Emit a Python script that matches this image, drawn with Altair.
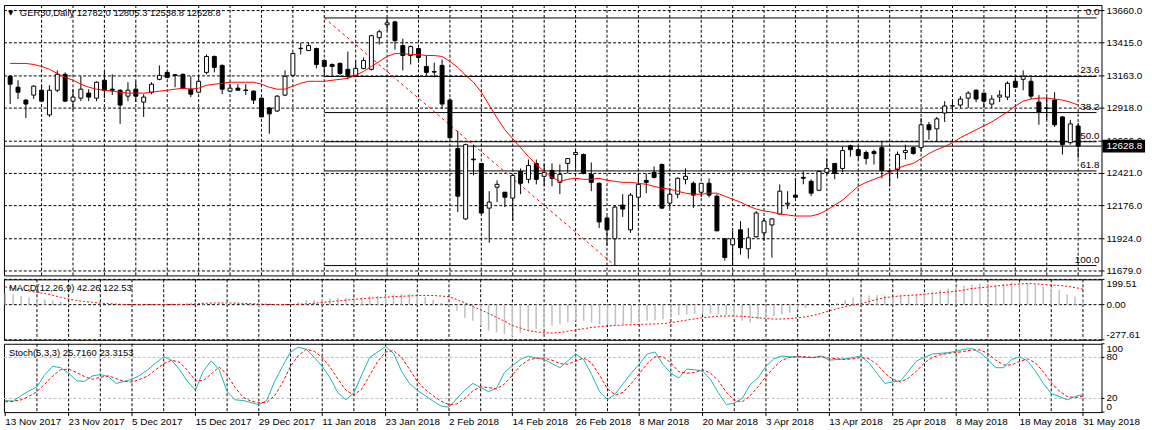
import altair as alt
import pandas as pd

# ------------------------------------------------------------------ data
x_labels = ["13 Nov 2017", "23 Nov 2017", "5 Dec 2017", "15 Dec 2017", "29 Dec 2017",
            "11 Jan 2018", "23 Jan 2018", "2 Feb 2018", "14 Feb 2018", "26 Feb 2018",
            "8 Mar 2018", "20 Mar 2018", "3 Apr 2018", "13 Apr 2018", "25 Apr 2018",
            "8 May 2018", "18 May 2018", "31 May 2018"]

opens = [13160, 13077, 12979, 13017, 13054, 12866, 13054, 13175, 12971, 12994,
         13032, 12994, 13130, 13062, 13054, 13009, 13062, 12964, 13039, 13137,
         13190, 13172, 13175, 13062, 13039, 13190, 13311, 13243, 13047, 13070,
         13056, 13047, 12994, 12919, 12896, 13017, 13167, 13371, 13356, 13371,
         13280, 13250, 13258, 13213, 13167, 13220, 13213, 13454, 13552, 13574,
         13394, 13318, 13371, 13235, 13196, 13243, 12979, 12610, 12075, 12530,
         12497, 12157, 12316, 12278, 12233, 12436, 12376, 12497, 12399, 12444,
         12353, 12497, 12565, 12565, 12414, 12346, 12082, 11924, 12180, 11992,
         12240, 12368, 12429, 12489, 12195, 12263, 12376, 12346, 12278, 12346,
         12248, 11924, 11878, 11992, 11848, 11939, 11969, 12029, 12112, 12187,
         12256, 12391, 12361, 12293, 12429, 12497, 12459, 12632, 12602, 12580,
         12587, 12617, 12438, 12451, 12580, 12617, 12617, 12791, 12760, 12881,
         12934, 12941, 12994, 13054, 13032, 12949, 13002, 13002, 13122, 13137,
         13122, 12964, 12919, 12979, 12851, 12655, 12782.0]

highs = [13165, 13130, 12987, 13092, 13092, 13092, 13205, 13190, 13062, 13160,
         13062, 13122, 13198, 13175, 13062, 13115, 13122, 13024, 13115, 13243,
         13195, 13175, 13182, 13160, 13160, 13326, 13318, 13250, 13100, 13100,
         13100, 13054, 12994, 12926, 13017, 13205, 13341, 13416, 13416, 13378,
         13288, 13258, 13265, 13348, 13273, 13303, 13476, 13514, 13604, 13582,
         13446, 13394, 13378, 13318, 13265, 13288, 12994, 12745, 12647, 12640,
         12500, 12286, 12368, 12280, 12414, 12459, 12527, 12527, 12497, 12497,
         12489, 12534, 12610, 12572, 12504, 12353, 12097, 12180, 12263, 12271,
         12421, 12421, 12474, 12497, 12308, 12391, 12459, 12361, 12346, 12384,
         12263, 11924, 11984, 12059, 12006, 12135, 12082, 12082, 12338, 12286,
         12384, 12436, 12376, 12444, 12534, 12497, 12625, 12640, 12625, 12595,
         12602, 12662, 12459, 12587, 12640, 12625, 12843, 12813, 12851, 12971,
         12971, 13009, 13047, 13062, 13032, 13017, 13054, 13122, 13152, 13205,
         13152, 13017, 13002, 13039, 12858, 12828, 12805.3]

lows = [12949, 12987, 12843, 12987, 12964, 12851, 13039, 12964, 12904, 12971,
        12971, 12971, 12994, 13017, 12798, 12971, 12964, 12851, 13024, 13130,
        13145, 13077, 13062, 13002, 13032, 13175, 13190, 13024, 13039, 13054,
        13017, 12949, 12851, 12723, 12889, 13009, 13160, 13326, 13356, 13220,
        13167, 13167, 13167, 13137, 13167, 13213, 13205, 13401, 13507, 13363,
        13205, 13250, 13265, 13167, 13152, 12911, 12685, 12127, 12067, 12406,
        12112, 11894, 12203, 12165, 12059, 12263, 12346, 12338, 12323, 12323,
        12263, 12421, 12459, 12414, 12286, 12006, 11871, 11720, 12090, 11969,
        12150, 12271, 12384, 12150, 12157, 12233, 12338, 12157, 12240, 12240,
        11984, 11758, 11728, 11803, 11773, 11931, 11909, 11781, 12112, 12150,
        12233, 12338, 12248, 12286, 12414, 12376, 12429, 12549, 12527, 12489,
        12489, 12384, 12323, 12384, 12527, 12565, 12587, 12678, 12662, 12813,
        12889, 12919, 12919, 12964, 12919, 12919, 12964, 12979, 13070, 13054,
        12987, 12791, 12828, 12775, 12565, 12640, 12538.8]

closes = [13100, 13039, 12949, 13085, 12971, 13054, 13175, 12971, 13002, 13062,
          13002, 13115, 13054, 13054, 12941, 13054, 13009, 13002, 13100, 13167,
          13152, 13167, 13070, 13024, 13122, 13311, 13228, 13062, 13070, 13054,
          13052, 12979, 12851, 12874, 13009, 13160, 13333, 13373, 13394, 13250,
          13235, 13235, 13182, 13167, 13220, 13280, 13469, 13499, 13567, 13431,
          13318, 13386, 13303, 13190, 13192, 12949, 12693, 12248, 12640, 12525,
          12120, 12203, 12338, 12240, 12406, 12346, 12482, 12376, 12429, 12384,
          12414, 12534, 12580, 12421, 12353, 12052, 11992, 12165, 12150, 12256,
          12338, 12353, 12391, 12157, 12263, 12384, 12399, 12256, 12346, 12256,
          11984, 11781, 11924, 11856, 11931, 12120, 12059, 12075, 12286, 12195,
          12240, 12384, 12271, 12436, 12459, 12421, 12595, 12602, 12557, 12534,
          12572, 12444, 12434, 12565, 12595, 12572, 12791, 12753, 12836, 12934,
          12936, 12987, 13032, 12987, 12971, 12987, 13017, 13107, 13077, 13160,
          13009, 12889, 12917, 12791, 12640, 12798, 12628.8]

ma = [13258, 13258, 13258, 13250, 13235, 13213, 13182, 13152, 13130, 13100,
      13077, 13062, 13054, 13047, 13039, 13032, 13032, 13032, 13039, 13047,
      13054, 13062, 13069, 13062, 13069, 13092, 13100, 13107, 13115, 13115,
      13115, 13115, 13100, 13077, 13062, 13062, 13085, 13107, 13122, 13122,
      13122, 13130, 13137, 13145, 13167, 13198, 13235, 13273, 13311, 13333,
      13333, 13326, 13326, 13318, 13318, 13311, 13273, 13228, 13167, 13115,
      13039, 12941, 12843, 12753, 12685, 12617, 12549, 12489, 12436, 12391,
      12361, 12376, 12384, 12376, 12376, 12384, 12369, 12361, 12353, 12353,
      12346, 12338, 12323, 12308, 12301, 12286, 12271, 12263, 12263, 12271,
      12271, 12248, 12225, 12203, 12173, 12150, 12135, 12127, 12112, 12105,
      12097, 12097, 12097, 12112, 12142, 12180, 12218, 12271, 12323, 12353,
      12376, 12399, 12429, 12459, 12482, 12497, 12534, 12572, 12602, 12625,
      12655, 12693, 12723, 12753, 12783, 12813, 12851, 12889, 12934, 12971,
      12987, 12994, 12994, 12987, 12979, 12964, 12941]

macd_hist = [90, 80, 68, 57, 48, 40, 32, 22, 12, 3,
             -3, -5, -5, -3, 0, -2, -4, -2, 2, 5,
             8, 10, 10, 8, 12, 15, 12, 10, 5, 2,
             -3, -8, -12, -15, -10, -5, 5, 23, 38, 38,
             44, 49, 54, 54, 56, 59, 64, 69, 74, 80,
             85, 82, 74, 59, 36, 13, -8, -51, -103, -128,
             -167, -205, -218, -231, -250, -225, -205, -192, -180, -167,
             -154, -141, -128, -128, -141, -154, -160, -160, -158, -149,
             -141, -128, -123, -115, -103, -82, -77, -72, -77, -72,
             -77, -82, -100, -128, -141, -115, -103, -90, -77, -64,
             -38, -26, -13, -5, 3, 13, 38, 56, 64, 72,
             77, 72, 64, 72, 77, 77, 90, 103, 115, 128,
             141, 154, 159, 167, 159, 154, 167, 175, 167, 172,
             159, 141, 128, 115, 82, 64, 42.26]

macd_signal = [140, 128, 117, 107, 98, 87, 74, 58, 44, 33,
               25, 18, 12, 8, 4, 2, 0, -1, -1, 0,
               0, 0, 1, 3, 6, 10, 13, 13, 13, 12,
               10, 8, 5, 3, 1, 0, 1, 3, 6, 11,
               17, 23, 30, 36, 42, 47, 51, 55, 59, 63,
               66, 69, 72, 73, 72, 68, 62, 40, 15, -15,
               -40, -70, -100, -130, -165, -185, -205, -215, -222, -224,
               -220, -210, -200, -190, -180, -174, -168, -164, -161, -159,
               -156, -154, -152, -150, -142, -132, -122, -112, -103, -97,
               -91, -89, -89, -92, -98, -103, -109, -114, -114, -110,
               -104, -96, -85, -68, -48, -32, -16, -3, 8, 25,
               42, 55, 63, 69, 73, 77, 82, 88, 94, 99,
               105, 116, 128, 133, 139, 147, 153, 159, 164, 167,
               165, 159, 155, 151, 145, 135, 122.53]

stoch_main = [17, 16, 24, 31, 37, 55, 67, 65, 57, 46,
              45, 53, 55, 52, 42, 45, 48, 54, 62, 72,
              81, 76, 62, 45, 32, 60, 75, 62, 30, 18,
              17, 14, 11, 17, 45, 67, 88, 95, 92, 80,
              67, 50, 28, 18, 28, 55, 80, 88, 96, 86,
              60, 42, 32, 24, 16, 9, 7, 20, 32, 42,
              36, 30, 35, 58, 68, 77, 82, 79, 77, 71,
              65, 75, 85, 77, 55, 30, 18, 27, 42, 57,
              70, 85, 88, 70, 57, 50, 63, 62, 60, 48,
              28, 11, 13, 20, 40, 50, 67, 78, 82, 81,
              81, 80, 80, 82, 76, 77, 78, 80, 82, 72,
              57, 42, 44, 46, 60, 75, 80, 85, 86, 87,
              89, 92, 93, 87, 77, 65, 65, 77, 81, 75,
              60, 42, 27, 23, 18, 23, 25.716]

stoch_signal = [15, 16, 18, 23, 30, 41, 53, 62, 63, 58,
                52, 48, 51, 53, 49, 45, 44, 48, 53, 62,
                71, 76, 73, 61, 46, 46, 56, 66, 55, 36,
                22, 16, 14, 14, 24, 43, 67, 83, 92, 89,
                80, 66, 48, 32, 25, 34, 54, 74, 88, 90,
                80, 63, 45, 33, 24, 16, 11, 12, 20, 31,
                37, 36, 34, 41, 54, 68, 76, 79, 79, 76,
                71, 70, 75, 79, 72, 54, 34, 25, 29, 42,
                56, 71, 81, 81, 72, 59, 57, 58, 62, 57,
                46, 29, 17, 15, 24, 37, 52, 65, 76, 80,
                81, 81, 80, 81, 79, 78, 77, 78, 80, 78,
                70, 57, 48, 44, 50, 60, 72, 80, 84, 86,
                87, 89, 91, 91, 86, 76, 69, 69, 74, 78,
                72, 59, 43, 31, 23, 21, 23.3153]

fib_labels = ["0.0", "23.6", "38.2", "50.0", "61.8", "100.0"]
fib_prices = [13604, 13159, 12884, 12662, 12440, 11720]
fib_from_bar, fib_low_bar = 40, 77

price_ticks = [13660.0, 13415.0, 13163.0, 12918.0, 12666.0, 12421.0, 12176.0, 11924.0, 11679.0]
macd_ticks = [199.51, 0.0, -277.61]
stoch_ticks = [100, 80, 20, 0]
stoch_levels = [80, 20]

n = len(closes)
for arr in (opens, highs, lows, ma, macd_hist, macd_signal, stoch_main, stoch_signal):
    assert len(arr) == n, len(arr)
bars = list(range(n))
grid_bars = list(range(4, n, 4))
label_bars = [8 * i for i in range(len(x_labels))]
bid = closes[-1]

# ------------------------------------------------------------------ layout
W = 1108
H_MAIN, H_MACD, H_STOCH = 273, 61, 69
FONT = "Liberation Sans"
X_MAX = 138.34

xs = alt.Scale(domain=[-0.16, X_MAX], nice=False, zero=False)
ys = alt.Scale(domain=[11645, 13702.5], nice=False, zero=False)
ms = alt.Scale(domain=[-277.61, 199.51], nice=False, zero=False)
ss = alt.Scale(domain=[0, 100], nice=False, zero=False)

DASH = [3, 2]

df = pd.DataFrame({"k": bars, "open": opens, "high": highs, "low": lows,
                   "close": closes, "ma": ma})
grid_df = pd.DataFrame({"k": grid_bars})


def X(field):
    return alt.X(field, scale=xs, axis=None)


def vgrid():
    return alt.Chart(grid_df).mark_rule(color="black", strokeDash=DASH, strokeWidth=1).encode(
        x=X("k:Q"))


def label(text, x, y, size=9.5, font=FONT):
    return alt.Chart(pd.DataFrame({"t": [text]})).mark_text(
        align="left", baseline="middle", fontSize=size, font=font, color="black"
    ).encode(x=alt.value(x), y=alt.value(y), text="t:N")


def right_axis(values, texts, scale, baselines, grid=False):
    """Right-hand price scale drawn as marks: ticks, labels and optional grid."""
    d = pd.DataFrame({"v": values, "t": texts, "b": baselines})
    layers = []
    if grid:
        layers.append(alt.Chart(d).mark_rule(color="black", strokeDash=DASH, strokeWidth=1)
                      .encode(y=alt.Y("v:Q", scale=scale, axis=None)))
    layers.append(alt.Chart(d).mark_rule(color="black", strokeWidth=1).encode(
        x=alt.value(W), x2=alt.value(W + 3), y=alt.Y("v:Q", scale=scale, axis=None)))
    for b in sorted(set(baselines)):
        layers.append(
            alt.Chart(d).transform_filter(alt.datum.b == b).mark_text(
                align="left", baseline=b, fontSize=10, font=FONT, color="black"
            ).encode(x=alt.value(W + 5), y=alt.Y("v:Q", scale=scale, axis=None), text="t:N"))
    return layers


# ------------------------------------------------------------------ main panel
fib_df = pd.DataFrame({"label": fib_labels, "price": fib_prices,
                       "k0": [fib_from_bar] * len(fib_prices), "k1": [X_MAX] * len(fib_prices)})
fib_lines = alt.Chart(fib_df).mark_rule(color="black", strokeWidth=1).encode(
    x=X("k0:Q"), x2="k1:Q", y=alt.Y("price:Q", scale=ys, axis=None))
fib_text = alt.Chart(fib_df).mark_text(align="right", baseline="bottom", dy=-1,
                                       fontSize=10, font=FONT, color="black").encode(
    x=alt.value(W - 2), y=alt.Y("price:Q", scale=ys, axis=None), text="label:N")
diag_df = pd.DataFrame({"k0": [fib_from_bar], "k1": [fib_low_bar],
                        "p0": [fib_prices[0]], "p1": [fib_prices[-1]]})
diag = alt.Chart(diag_df).mark_rule(color="red", strokeDash=[3, 3], strokeWidth=1).encode(
    x=X("k0:Q"), x2="k1:Q",
    y=alt.Y("p0:Q", scale=ys, axis=None), y2="p1:Q")

bid_df = pd.DataFrame({"price": [bid], "label": [f"{bid:.1f}"]})
bid_line = alt.Chart(bid_df).mark_rule(color="black", strokeWidth=1).encode(
    y=alt.Y("price:Q", scale=ys, axis=None))
bid_box = alt.Chart(bid_df).mark_rule(color="black", strokeWidth=13).encode(
    x=alt.value(W + 1), x2=alt.value(W + 44), y=alt.Y("price:Q", scale=ys, axis=None))
bid_text = alt.Chart(bid_df).mark_text(align="left", baseline="middle", color="white",
                                       fontSize=10, font=FONT).encode(
    x=alt.value(W + 5), y=alt.Y("price:Q", scale=ys, axis=None), text="label:N")

wicks = alt.Chart(df).mark_rule(color="black", strokeWidth=1).encode(
    x=X("k:Q"), y=alt.Y("low:Q", scale=ys, axis=None), y2="high:Q")
bodies = alt.Chart(df).mark_bar(size=4, stroke="black", strokeWidth=1).encode(
    x=X("k:Q"), y=alt.Y("open:Q", scale=ys, axis=None), y2="close:Q",
    fill=alt.condition("datum.close >= datum.open", alt.value("white"), alt.value("black")))
ma_line = alt.Chart(df).mark_line(color="red", strokeWidth=1).encode(
    x=X("k:Q"), y=alt.Y("ma:Q", scale=ys, axis=None))

title_text = f"GER30,Daily  {opens[-1]:.1f} {highs[-1]:.1f} {lows[-1]:.1f} {closes[-1]:.1f}"
main_layers = (
    [vgrid()]
    + right_axis(price_ticks, [f"{v:.1f}" for v in price_ticks], ys,
                 ["middle"] * len(price_ticks), grid=True)
    + [fib_lines, fib_text, diag, bid_line, wicks, bodies, ma_line,
       label("\u25bc", 4, 8, size=7, font="DejaVu Sans"), label(title_text, 16, 8),
       bid_box, bid_text]
)
main = alt.layer(*main_layers).properties(width=W, height=H_MAIN)

# ------------------------------------------------------------------ MACD
macd_df = pd.DataFrame({"k": bars, "hist": macd_hist, "signal": macd_signal,
                        "zero": [0.0] * n})
hist = alt.Chart(macd_df).mark_rule(color="#C0C0C0", strokeWidth=1.5).encode(
    x=X("k:Q"), y=alt.Y("hist:Q", scale=ms, axis=None), y2="zero:Q")
sig = alt.Chart(macd_df).mark_line(color="red", strokeDash=[2, 2], strokeWidth=1).encode(
    x=X("k:Q"), y=alt.Y("signal:Q", scale=ms, axis=None))
macd_title = f"MACD(12,26,9) {macd_hist[-1]:.2f} {macd_signal[-1]:.2f}"
macd_layers = (
    [vgrid()]
    + right_axis(macd_ticks, [f"{v:.2f}" for v in macd_ticks], ms,
                 ["top", "middle", "bottom"], grid=True)
    + [hist, sig, label(macd_title, 5, 9)]
)
macd = alt.layer(*macd_layers).properties(width=W, height=H_MACD)

# ------------------------------------------------------------------ Stochastic
st_df = pd.DataFrame({"k": bars, "main": stoch_main, "signal": stoch_signal})
lv_df = pd.DataFrame({"v": stoch_levels})
levels = alt.Chart(lv_df).mark_rule(color="#C0C0C0", strokeDash=DASH, strokeWidth=1).encode(
    y=alt.Y("v:Q", scale=ss, axis=None))
st_main = alt.Chart(st_df).mark_line(color="#20B2AA", strokeWidth=1).encode(
    x=X("k:Q"), y=alt.Y("main:Q", scale=ss, axis=None))
st_sig = alt.Chart(st_df).mark_line(color="red", strokeDash=[3, 2], strokeWidth=1).encode(
    x=X("k:Q"), y=alt.Y("signal:Q", scale=ss, axis=None))
st_title = f"Stoch(5,3,3) {stoch_main[-1]:.4f} {stoch_signal[-1]:.4f}"

date_df = pd.DataFrame({"k": label_bars, "t": x_labels})
date_ticks = alt.Chart(date_df).mark_rule(color="black", strokeWidth=1).encode(
    x=X("k:Q"), y=alt.value(H_STOCH), y2=alt.value(H_STOCH + 4))
date_text = alt.Chart(date_df).mark_text(align="left", baseline="middle", fontSize=10,
                                         font=FONT, color="black").encode(
    x=X("k:Q"), y=alt.value(H_STOCH + 10), text="t:N")

stoch_layers = (
    [vgrid(), levels]
    + right_axis(stoch_ticks, [str(v) for v in stoch_ticks], ss,
                 ["top", "middle", "middle", "bottom"], grid=False)
    + [st_main, st_sig, label(st_title, 5, 9), date_ticks, date_text]
)
stoch = alt.layer(*stoch_layers).properties(width=W, height=H_STOCH)

chart = alt.vconcat(main, macd, stoch, spacing=2).properties(
    padding={"left": 2, "top": 2, "right": 0, "bottom": 0},
    background="white",
).configure_view(stroke="black", strokeWidth=1)

chart.save("out.html", embed_options={"renderer": "svg", "actions": False})
